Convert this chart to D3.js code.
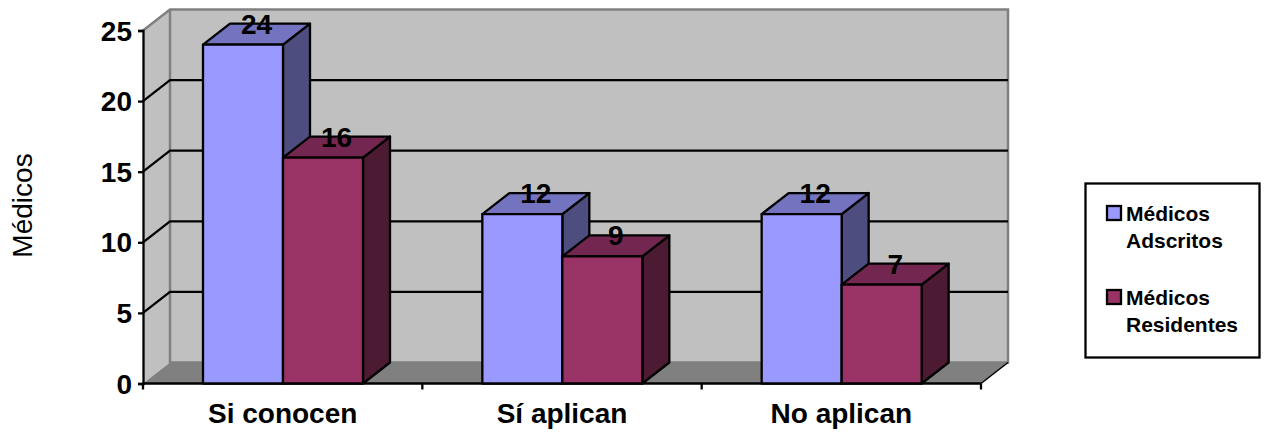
<!DOCTYPE html>
<html lang="es">
<head>
<meta charset="utf-8">
<title>Médicos</title>
<script src="https://cdn.jsdelivr.net/npm/d3@7/dist/d3.min.js"></script>
<style>
html, body { margin: 0; padding: 0; background: #fff; }
svg { display: block; font-family: "Liberation Sans", Arial, sans-serif; }
</style>
</head>
<body>
<svg id="chart" width="1265" height="433"></svg>
<script>
// Chart values
const categories = ["Si conocen", "Sí aplican", "No aplican"];
const seriesNames = ["Médicos Adscritos", "Médicos Residentes"];
const adscritos = [24, 12, 12];
const residentes = [16, 9, 7];
const yTicks = [0, 5, 10, 15, 20, 25];

// Front / top / side shades for each series
const faceColors = [
  { front: "#9999ff", top: "#7373bf", side: "#4d4d80" },
  { front: "#993366", top: "#732650", side: "#4d1a33" }
];

const svg = d3.select("#chart");
const depthX = 27, depthY = -21;
const lineW = 2.3;
const pt = (x, y) => [x, y];
const poly = pts => pts.map(p => p.join(",")).join(" ");

const x0 = d3.scaleBand().domain(categories).range([143, 981]);
const x1 = d3.scaleBand().domain(seriesNames).range([60, 220]);
const y = d3.scaleLinear().domain([0, 25]).range([383.5, 30.5]);

const xL = x0.range()[0], xR = x0.range()[1];
const yB = y(0), yT = y(25);

// Back wall, side wall and floor of the box
const walls = svg.append("g");
walls.append("polygon")
  .attr("points", poly([pt(xL, yT), pt(xL + depthX, yT + depthY), pt(xL + depthX, yB + depthY), pt(xL, yB)]))
  .attr("fill", "#c0c0c0");
walls.append("polygon")
  .attr("points", poly([pt(xL + depthX, yT + depthY), pt(xR + depthX, yT + depthY), pt(xR + depthX, yB + depthY), pt(xL + depthX, yB + depthY)]))
  .attr("fill", "#c0c0c0");
walls.append("polyline")
  .attr("points", poly([pt(xL, yT), pt(xL + depthX, yT + depthY), pt(xR + depthX, yT + depthY), pt(xR + depthX, yB + depthY), pt(xL + depthX, yB + depthY), pt(xL + depthX, yT + depthY)]))
  .attr("fill", "none").attr("stroke", "#808080").attr("stroke-width", 2.5);
walls.append("polygon")
  .attr("points", poly([pt(xL, yB), pt(xL + depthX, yB + depthY), pt(xR + depthX, yB + depthY), pt(xR, yB)]))
  .attr("fill", "#808080");

// Gridlines wrap from the axis across the side wall onto the back wall
svg.append("g").selectAll("polyline")
  .data(yTicks.filter(t => t > 0 && t < 25))
  .join("polyline")
  .attr("points", t => poly([pt(xL, y(t)), pt(xL + depthX, y(t) + depthY), pt(xR + depthX, y(t) + depthY)]))
  .attr("fill", "none").attr("stroke", "#000").attr("stroke-width", lineW);

// Floor edge on the right
svg.append("line")
  .attr("x1", xR).attr("y1", yB).attr("x2", xR + depthX).attr("y2", yB + depthY)
  .attr("stroke", "#000").attr("stroke-width", 1.5);

// Value axis
const yAxis = svg.append("g")
  .attr("transform", `translate(${xL},0)`)
  .call(d3.axisLeft(y).tickValues(yTicks).tickSize(5).tickPadding(6));
yAxis.select(".domain").attr("stroke", "#000").attr("stroke-width", lineW);
yAxis.selectAll(".tick line").attr("stroke", "#000").attr("stroke-width", lineW);
yAxis.selectAll("text")
  .attr("font-family", '"Liberation Sans", Arial, sans-serif')
  .attr("font-size", 28).attr("font-weight", "bold").attr("fill", "#000")
  .attr("dy", 9.5);

// Category axis with ticks on the band boundaries
const xAxisG = svg.append("g");
xAxisG.append("line")
  .attr("x1", xL).attr("x2", xR).attr("y1", yB).attr("y2", yB)
  .attr("stroke", "#000").attr("stroke-width", lineW);
xAxisG.selectAll("line.edge")
  .data([...categories.map(c => x0(c)), xR])
  .join("line").attr("class", "edge")
  .attr("x1", d => d).attr("x2", d => d)
  .attr("y1", yB).attr("y2", yB + 6)
  .attr("stroke", "#000").attr("stroke-width", lineW);
xAxisG.selectAll("text")
  .data(categories)
  .join("text")
  .attr("x", c => x0(c) + x0.bandwidth() / 2)
  .attr("y", 423)
  .attr("text-anchor", "middle")
  .attr("font-size", 28).attr("font-weight", "bold").attr("fill", "#000")
  .text(c => c);

// Axis title
svg.append("text")
  .attr("transform", "translate(32,205.5) rotate(-90)")
  .attr("text-anchor", "middle")
  .attr("font-size", 28).attr("fill", "#000")
  .text("Médicos");

// 3D columns, series by series so the later column overlaps the earlier one
const rows = categories.flatMap((c, i) => [
  { cat: c, name: seriesNames[0], value: adscritos[i], colors: faceColors[0] },
  { cat: c, name: seriesNames[1], value: residentes[i], colors: faceColors[1] }
]);
const bars = svg.append("g").selectAll("g").data(rows).join("g");
const bx = d => x0(d.cat) + x1(d.name);
bars.append("polygon")
  .attr("points", d => poly([
    pt(bx(d) + x1.bandwidth(), y(d.value)),
    pt(bx(d) + x1.bandwidth() + depthX, y(d.value) + depthY),
    pt(bx(d) + x1.bandwidth() + depthX, yB + depthY),
    pt(bx(d) + x1.bandwidth(), yB)]))
  .attr("fill", d => d.colors.side);
bars.append("polygon")
  .attr("points", d => poly([
    pt(bx(d), y(d.value)),
    pt(bx(d) + depthX, y(d.value) + depthY),
    pt(bx(d) + x1.bandwidth() + depthX, y(d.value) + depthY),
    pt(bx(d) + x1.bandwidth(), y(d.value))]))
  .attr("fill", d => d.colors.top);
bars.append("rect")
  .attr("x", bx).attr("y", d => y(d.value))
  .attr("width", x1.bandwidth()).attr("height", d => yB - y(d.value))
  .attr("fill", d => d.colors.front);
bars.selectAll("polygon, rect")
  .attr("stroke", "#000").attr("stroke-width", lineW).attr("stroke-linejoin", "round");

// Value labels above the columns
svg.append("g").selectAll("text").data(rows).join("text")
  .attr("x", d => bx(d) + x1.bandwidth() / 2 + depthX / 2)
  .attr("y", d => y(d.value) - 11)
  .attr("text-anchor", "middle")
  .attr("font-size", 28).attr("font-weight", "bold").attr("fill", "#000")
  .text(d => d.value);

// Legend
const legend = svg.append("g");
legend.append("rect")
  .attr("x", 1085.5).attr("y", 183.5).attr("width", 174).attr("height", 174)
  .attr("fill", "#fff").attr("stroke", "#000").attr("stroke-width", lineW);
const legendTops = [206, 290];
const legendItems = legend.selectAll("g").data(seriesNames).join("g")
  .attr("transform", (d, i) => `translate(1107,${legendTops[i]})`);
legendItems.append("rect")
  .attr("width", 14).attr("height", 14)
  .attr("fill", (d, i) => faceColors[i].front)
  .attr("stroke", "#000").attr("stroke-width", lineW);
legendItems.selectAll("text")
  .data(d => d.split(" "))
  .join("text")
  .attr("x", 19).attr("y", (d, i) => 15 + i * 26.5)
  .attr("font-size", 21).attr("font-weight", "bold").attr("fill", "#000")
  .text(d => d);
</script>
</body>
</html>
